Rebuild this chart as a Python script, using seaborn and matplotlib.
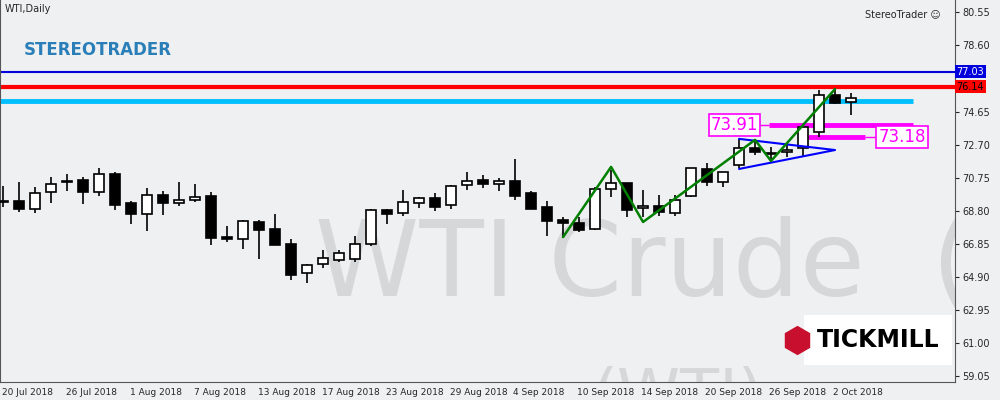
import matplotlib
matplotlib.use("Agg")
import matplotlib.pyplot as plt
import numpy as np
import pandas as pd
import seaborn as sns

# OHLC, daily WTI
opens = [69.35, 69.38, 68.91, 69.92, 70.51, 70.63, 69.92, 70.98, 69.27, 68.61,
         69.74, 69.27, 69.44, 69.68, 67.25, 67.14, 68.14, 67.73, 66.84, 65.12,
         65.66, 65.89, 65.95, 66.84, 68.85, 68.67, 69.27, 69.56, 69.15, 70.33,
         70.63, 70.39, 70.57, 69.86, 69.03, 68.26, 68.08, 67.73, 70.10, 70.45,
         68.97, 69.09, 68.67, 69.68, 71.28, 70.51, 71.52, 72.52, 72.23, 72.29,
         72.52, 73.47, 75.66, 75.25]
highs = [70.27, 70.51, 70.21, 70.81, 70.98, 70.81, 71.34, 71.10, 69.38, 70.15,
         69.98, 70.51, 70.39, 69.92, 67.90, 68.26, 68.26, 68.61, 67.14, 65.66,
         66.48, 66.48, 67.31, 68.91, 68.91, 70.04, 69.62, 69.86, 70.33, 71.10,
         70.92, 70.75, 71.87, 69.98, 69.38, 68.44, 68.44, 70.21, 71.22, 70.45,
         70.04, 69.74, 69.74, 71.34, 71.63, 71.10, 73.06, 73.00, 72.58, 72.82,
         73.77, 75.96, 75.96, 75.78]
lows = [69.03, 68.73, 68.67, 69.27, 69.98, 69.21, 69.68, 68.85, 68.02, 67.61,
        68.56, 69.09, 69.33, 66.78, 66.96, 66.54, 65.95, 66.78, 64.71, 64.53,
        65.42, 65.77, 65.77, 66.72, 68.02, 68.50, 68.97, 68.79, 68.91, 70.04,
        70.15, 69.98, 69.44, 68.91, 67.31, 67.19, 67.55, 67.67, 69.62, 68.44,
        68.44, 68.50, 68.50, 69.62, 70.27, 70.21, 71.34, 72.11, 71.69, 71.99,
        72.05, 73.17, 75.13, 74.48]
closes = [69.30, 68.91, 69.86, 70.39, 70.55, 69.92, 70.98, 69.15, 68.61, 69.74,
          69.27, 69.44, 69.62, 67.19, 67.14, 68.20, 67.67, 66.78, 65.00, 65.60,
          66.01, 66.31, 66.84, 68.85, 68.61, 69.33, 69.56, 69.03, 70.27, 70.57,
          70.39, 70.57, 69.68, 68.91, 68.20, 68.08, 67.67, 70.10, 70.45, 68.85,
          69.09, 68.73, 69.44, 71.34, 70.51, 71.10, 72.52, 72.29, 72.17, 72.40,
          73.77, 75.66, 75.19, 75.48]

date_labels = ["20 Jul 2018", "26 Jul 2018", "1 Aug 2018", "7 Aug 2018", "13 Aug 2018",
               "17 Aug 2018", "23 Aug 2018", "29 Aug 2018", "4 Sep 2018", "10 Sep 2018",
               "14 Sep 2018", "20 Sep 2018", "26 Sep 2018", "2 Oct 2018"]
date_idx = [0, 4, 8, 12, 16, 20, 24, 28, 32, 36, 40, 44, 48, 52]
price_ticks = [80.55, 78.60, 74.65, 72.70, 70.75, 68.80, 66.85, 64.90, 62.95, 61.00, 59.05]

zigzag_idx = [35, 38, 40, 47, 48, 52]
zigzag_px = [67.25, 71.40, 68.14, 73.00, 71.75, 76.01]
tri_idx = [46, 52, 46]
tri_px = [73.06, 72.40, 71.28]

level_blue, level_red, level_cyan = 77.03, 76.14, 75.30
level_m1, level_m2 = 73.91, 73.18

df = pd.DataFrame({"o": opens, "h": highs, "l": lows, "c": closes})
df["i"] = np.arange(len(df))
df["up"] = df["c"] >= df["o"]

sns.set_style("white", {"axes.facecolor": "#eff0f2"})
fig = plt.figure(figsize=(10, 4), dpi=100, facecolor="#eff0f2")
ax = fig.add_axes([0.0, 0.045, 0.955, 0.955])
ax.set_xlim(-0.2, 59.5)
ax.set_ylim(58.67, 81.28)

# watermark
ax.text(0.33, 0.30, "WTI Crude  (D", transform=ax.transAxes, fontsize=76,
        color="#d6d7d9", va="center", ha="left", zorder=0, clip_on=True)
ax.text(0.62, -0.04, "(WTI)", transform=ax.transAxes, fontsize=46,
        color="#d6d7d9", va="center", ha="left", zorder=0, clip_on=True)

# horizontal levels
ax.axhline(level_blue, color="#0000dd", lw=1.5, zorder=2)
ax.axhline(level_red, color="#ff0000", lw=3, zorder=2)
ax.hlines(level_cyan, -0.2, 56.9, color="#00bfff", lw=3.5, zorder=2)
ax.hlines(level_m1, 47.9, 56.9, color="#ff00ff", lw=3.5, zorder=2)
ax.hlines(level_m2, 50.3, 53.9, color="#ff00ff", lw=3.5, zorder=2)
ax.hlines(level_m1, 47.2, 47.9, color="#ff00ff", lw=1, zorder=2)
ax.hlines(level_m2, 53.9, 54.5, color="#ff00ff", lw=1, zorder=2)
box = dict(boxstyle="square,pad=0.12", fc="white", ec="#ff00ff", lw=1.2)
ax.text(47.2, level_m1, "73.91", color="#ff00ff", fontsize=12, ha="right", va="center", bbox=box, zorder=6)
ax.text(54.7, level_m2, "73.18", color="#ff00ff", fontsize=12, ha="left", va="center", bbox=box, zorder=6)

# candles
ax.vlines(df["i"], df["l"], df["h"], color="black", lw=1.2, zorder=3)
body_lo = np.minimum(df["o"], df["c"])
body_h = np.maximum(np.abs(df["c"] - df["o"]), 0.06)
ax.bar(df["i"], body_h, bottom=body_lo, width=0.62,
       color=np.where(df["up"], "white", "black"), edgecolor="black", lw=1.2, zorder=4)

# triangle and zigzag
ax.plot(tri_idx, tri_px, color="#0000ff", lw=1.5, zorder=5)
sns.lineplot(x=zigzag_idx, y=zigzag_px, color="#008000", lw=1.8, ax=ax, zorder=5, sort=False)

# axes cosmetics
ax.spines["top"].set_visible(False)
for s in ["left", "right", "bottom"]:
    ax.spines[s].set_color("#555555")
ax.yaxis.tick_right()
ax.set_yticks(price_ticks)
ax.set_yticklabels([f"{p:.2f}" for p in price_ticks], fontsize=7)
ax.tick_params(axis="y", length=3, pad=2)
ax.set_xticks(date_idx)
ax.set_xticklabels([])
ax.tick_params(axis="x", length=3)
for i, lab in zip(date_idx, date_labels):
    ax.text(i - 0.1, 58.67 - 0.35, lab, fontsize=6.5, ha="left", va="top")

# price boxes on right axis
ax.text(59.6, level_blue, "77.03", color="white", fontsize=7, va="center", ha="left",
        bbox=dict(boxstyle="square,pad=0.15", fc="#0000dd", ec="none"), clip_on=False)
ax.text(59.6, level_red, "76.14", color="black", fontsize=7, va="center", ha="left",
        bbox=dict(boxstyle="square,pad=0.15", fc="#ff0000", ec="none"), clip_on=False)

# header texts / logos
ax.text(0.005, 0.99, "WTI,Daily", transform=ax.transAxes, fontsize=7, va="top")
ax.text(0.985, 0.975, "StereoTrader \u263a", transform=ax.transAxes, fontsize=7, va="top", ha="right")
ax.text(0.025, 0.87, "STEREOTRADER", transform=ax.transAxes, fontsize=12, fontweight="bold",
        color="#2a7fb8", va="center")
ax.text(0.855, 0.11, "TICKMILL", transform=ax.transAxes, fontsize=17, fontweight="bold",
        color="black", va="center", zorder=7,
        bbox=dict(boxstyle="square,pad=0.55", fc="white", ec="none"))
ax.plot([0.835], [0.11], marker="h", ms=20, color="#c8102e", transform=ax.transAxes, zorder=8)

fig.savefig("out.png", dpi=100, facecolor=fig.get_facecolor())
